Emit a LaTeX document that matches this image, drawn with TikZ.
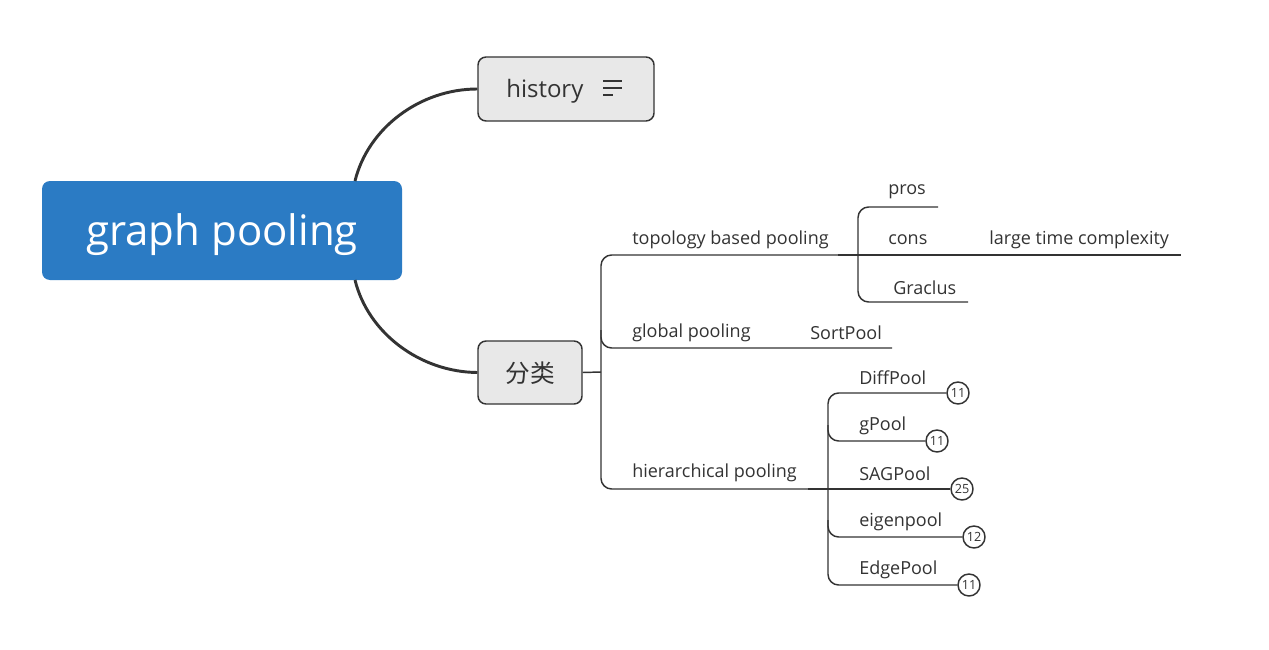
\documentclass[tikz,border=0pt]{standalone}
\usepackage{fontspec}
\setmainfont{Open Sans}
\newfontfamily\cjk{Noto Sans CJK SC}
\definecolor{rootblue}{HTML}{2B7BC4}
\definecolor{linec}{HTML}{333333}
\definecolor{boxfill}{HTML}{E8E8E8}
\definecolor{textc}{HTML}{333333}
\begin{document}
\begin{tikzpicture}[x=0.75pt,y=-0.75pt,line join=round,
  thickcurve/.style={draw=linec,line width=2.2pt},
  thinl/.style={draw=linec,line width=1.1pt},
  juncl/.style={draw=linec,line width=2pt},
  rootbox/.style={fill=rootblue,rounded corners=6pt,minimum width=270pt,minimum height=74.25pt,inner sep=0pt},
  subbox/.style={fill=boxfill,draw=linec,line width=1.1pt,rounded corners=6pt,inner sep=0pt},
  lbl/.style={anchor=west,inner sep=0pt,text=textc,font=\fontsize{13.5}{16}\selectfont},
  numc/.style={circle,draw=linec,line width=1.1pt,fill=white,minimum size=16.5pt,inner sep=0pt,text=textc,font=\fontsize{9.5}{10}\selectfont}]
\useasboundingbox[fill=white] (0,0) rectangle (1269,649);

% main boxes
\node[rootbox] (root) at (222,230.5) {};
\node[text=white,font=\fontsize{31.5}{36}\selectfont,inner sep=0pt] (roottxt) at (222,234.5) {graph pooling};
\node[subbox,minimum width=132pt,minimum height=48pt] (hist) at (566,89) {};
\node[anchor=west,inner sep=0pt,text=textc,font=\fontsize{18}{20}\selectfont] (histtxt) at (506,91) {history};
\node[subbox,minimum width=78pt,minimum height=47.25pt] (cls) at (530,372.5) {};
\node[inner sep=0pt,text=textc,font=\cjk\fontsize{18.5}{20}\selectfont] (clstxt) at (530,373.5) {分类};

% note icon
\coordinate (ic1a) at (603,81); \coordinate (ic1b) at (622,81);
\coordinate (ic2a) at (603,88); \coordinate (ic2b) at (622,88);
\coordinate (ic3a) at (603,95); \coordinate (ic3b) at (613,95);
\draw[thinl,line width=1.3pt] (ic1a) -- (ic1b) (ic2a) -- (ic2b) (ic3a) -- (ic3b);

% curves from root
\coordinate (rtop) at (355,181);
\coordinate (rbot) at (355,280);
\draw[thickcurve] (rtop) .. controls (368,128) and (420,89) .. (hist.west);
\draw[thickcurve] (rbot) .. controls (368,333) and (420,372) .. (cls.west);

% labels level 2
\node[lbl] (topo) at (632,240) {topology based pooling};
\node[lbl] (glob) at (632,333) {global pooling};
\node[lbl] (hier) at (632,473) {hierarchical pooling};
\node[lbl] (sort) at (810,333) {SortPool};
\node[lbl] (pros) at (888,192) {pros};
\node[lbl] (cons) at (888,240) {cons};
\node[lbl] (grac) at (893,288) {Graclus};
\node[lbl] (ltc) at (989,240) {large time complexity};
\node[lbl] (diff) at (859,378) {DiffPool};
\node[lbl] (gpool) at (859,426) {gPool};
\node[lbl] (sag) at (859,474) {SAGPool};
\node[lbl] (eig) at (859,522) {eigenpool};
\node[lbl] (edge) at (859,570) {EdgePool};

% number circles
\node[numc] (c1) at (958,393) {11};
\node[numc] (c2) at (937,441) {11};
\node[numc] (c3) at (962,489) {25};
\node[numc] (c4) at (974,537) {12};
\node[numc] (c5) at (969,585) {11};

% junction coordinates
\coordinate (sp) at (601,372);
\coordinate (topoend) at (838,255);
\coordinate (topoj) at (858,255);
\coordinate (hierend) at (808,489);
\coordinate (hierj) at (828,489);
\coordinate (prosend) at (938,207);
\coordinate (gracend) at (968,302);
\coordinate (consend) at (1181,255);
\coordinate (globend) at (892,348);

% level 1 tree
\draw[thinl] (cls.east) -- (sp);
\draw[thinl,rounded corners=8pt] (topoend) -- (601,255) -- (601,489) -- (hierend);
\draw[thinl,rounded corners=8pt] (601,330) -- (601,348) -- (globend);
\draw[juncl] (topoend) -- (topoj);
\draw[juncl] (hierend) -- (hierj);

% topology subtree
\draw[thinl,rounded corners=8pt] (prosend) -- (858,207) -- (858,302) -- (gracend);
\draw[thinl] (topoj) -- (consend);

% hierarchical subtree
\draw[thinl,rounded corners=8pt] (c1.west) -- (828,393) -- (828,585) -- (c5.west);
\draw[thinl,rounded corners=8pt] (828,425) -- (828,441) -- (c2.west);
\draw[thinl] (hierj) -- (c3.west);
\draw[thinl,rounded corners=8pt] (828,520) -- (828,537) -- (c4.west);
\end{tikzpicture}
\end{document}
